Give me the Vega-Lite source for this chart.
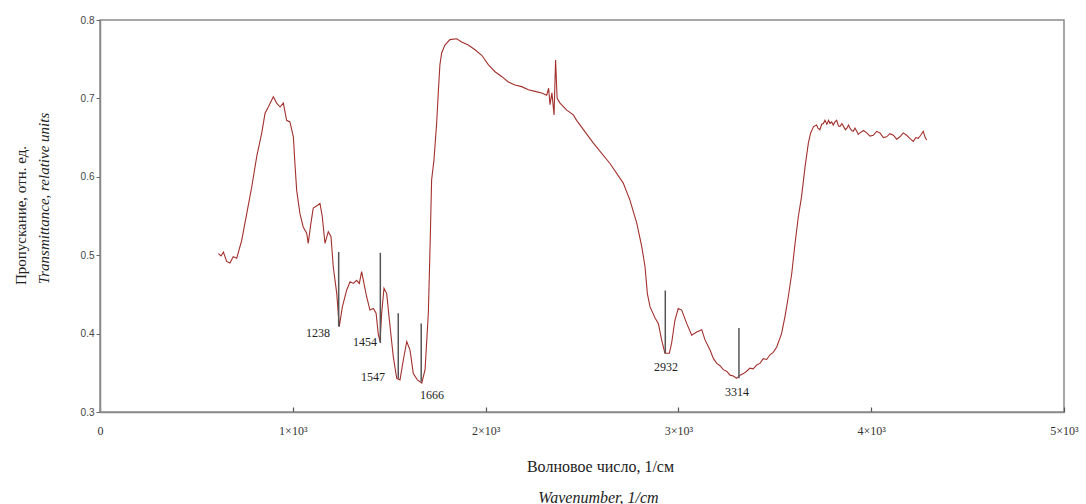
{
  "$schema": "https://vega.github.io/schema/vega-lite/v6.json",
  "width": 964,
  "height": 392,
  "autosize": {"type": "none"},
  "padding": {"left": 100, "top": 20, "right": 22, "bottom": 92},
  "background": "white",
  "config": {
    "view": {"stroke": "#8a8a8a", "strokeWidth": 1.5},
    "axis": {"grid": false}
  },
  "datasets": {
    "spectrum": [
      {"wn": 614, "t": 0.502}, {"wn": 628, "t": 0.499}, {"wn": 640, "t": 0.504}, {"wn": 657, "t": 0.492},
      {"wn": 674, "t": 0.490}, {"wn": 691, "t": 0.498}, {"wn": 709, "t": 0.496}, {"wn": 735, "t": 0.519},
      {"wn": 761, "t": 0.553}, {"wn": 787, "t": 0.587}, {"wn": 813, "t": 0.626}, {"wn": 839, "t": 0.656},
      {"wn": 856, "t": 0.681}, {"wn": 873, "t": 0.689}, {"wn": 899, "t": 0.702}, {"wn": 916, "t": 0.694},
      {"wn": 934, "t": 0.689}, {"wn": 951, "t": 0.694}, {"wn": 968, "t": 0.672}, {"wn": 985, "t": 0.670},
      {"wn": 1003, "t": 0.651}, {"wn": 1011, "t": 0.617}, {"wn": 1020, "t": 0.583}, {"wn": 1037, "t": 0.553},
      {"wn": 1054, "t": 0.536}, {"wn": 1072, "t": 0.528}, {"wn": 1080, "t": 0.515}, {"wn": 1094, "t": 0.541},
      {"wn": 1106, "t": 0.560}, {"wn": 1125, "t": 0.563}, {"wn": 1141, "t": 0.566}, {"wn": 1153, "t": 0.549},
      {"wn": 1167, "t": 0.515}, {"wn": 1184, "t": 0.530}, {"wn": 1198, "t": 0.524}, {"wn": 1210, "t": 0.485},
      {"wn": 1228, "t": 0.451}, {"wn": 1241, "t": 0.409}, {"wn": 1257, "t": 0.434}, {"wn": 1280, "t": 0.456},
      {"wn": 1297, "t": 0.466}, {"wn": 1314, "t": 0.464}, {"wn": 1331, "t": 0.468}, {"wn": 1345, "t": 0.464},
      {"wn": 1357, "t": 0.479}, {"wn": 1366, "t": 0.468}, {"wn": 1383, "t": 0.447}, {"wn": 1400, "t": 0.430},
      {"wn": 1418, "t": 0.432}, {"wn": 1432, "t": 0.426}, {"wn": 1443, "t": 0.400}, {"wn": 1452, "t": 0.390},
      {"wn": 1461, "t": 0.426}, {"wn": 1473, "t": 0.458}, {"wn": 1487, "t": 0.451}, {"wn": 1501, "t": 0.417},
      {"wn": 1521, "t": 0.371}, {"wn": 1539, "t": 0.343}, {"wn": 1556, "t": 0.341}, {"wn": 1573, "t": 0.366},
      {"wn": 1591, "t": 0.390}, {"wn": 1608, "t": 0.379}, {"wn": 1625, "t": 0.349}, {"wn": 1646, "t": 0.341},
      {"wn": 1669, "t": 0.337}, {"wn": 1686, "t": 0.354}, {"wn": 1703, "t": 0.426}, {"wn": 1712, "t": 0.511},
      {"wn": 1720, "t": 0.596}, {"wn": 1732, "t": 0.621}, {"wn": 1746, "t": 0.668}, {"wn": 1755, "t": 0.709},
      {"wn": 1763, "t": 0.743}, {"wn": 1772, "t": 0.758}, {"wn": 1789, "t": 0.768}, {"wn": 1815, "t": 0.775},
      {"wn": 1850, "t": 0.776}, {"wn": 1876, "t": 0.772}, {"wn": 1910, "t": 0.768}, {"wn": 1945, "t": 0.762},
      {"wn": 1980, "t": 0.755}, {"wn": 2014, "t": 0.743}, {"wn": 2049, "t": 0.734}, {"wn": 2083, "t": 0.728},
      {"wn": 2118, "t": 0.721}, {"wn": 2152, "t": 0.717}, {"wn": 2187, "t": 0.715}, {"wn": 2222, "t": 0.711},
      {"wn": 2256, "t": 0.709}, {"wn": 2291, "t": 0.707}, {"wn": 2317, "t": 0.704}, {"wn": 2327, "t": 0.713},
      {"wn": 2334, "t": 0.692}, {"wn": 2344, "t": 0.707}, {"wn": 2355, "t": 0.679}, {"wn": 2363, "t": 0.749},
      {"wn": 2371, "t": 0.700}, {"wn": 2386, "t": 0.694}, {"wn": 2421, "t": 0.685}, {"wn": 2455, "t": 0.679},
      {"wn": 2472, "t": 0.672}, {"wn": 2559, "t": 0.643}, {"wn": 2645, "t": 0.617}, {"wn": 2714, "t": 0.592},
      {"wn": 2749, "t": 0.570}, {"wn": 2784, "t": 0.541}, {"wn": 2810, "t": 0.511}, {"wn": 2827, "t": 0.485},
      {"wn": 2839, "t": 0.451}, {"wn": 2853, "t": 0.434}, {"wn": 2879, "t": 0.420}, {"wn": 2896, "t": 0.413},
      {"wn": 2913, "t": 0.392}, {"wn": 2930, "t": 0.375}, {"wn": 2953, "t": 0.375}, {"wn": 2965, "t": 0.388},
      {"wn": 2982, "t": 0.417}, {"wn": 2999, "t": 0.432}, {"wn": 3017, "t": 0.430}, {"wn": 3043, "t": 0.413},
      {"wn": 3069, "t": 0.398}, {"wn": 3095, "t": 0.402}, {"wn": 3121, "t": 0.405}, {"wn": 3138, "t": 0.392},
      {"wn": 3164, "t": 0.379}, {"wn": 3182, "t": 0.368}, {"wn": 3199, "t": 0.362}, {"wn": 3216, "t": 0.359},
      {"wn": 3233, "t": 0.354}, {"wn": 3250, "t": 0.352}, {"wn": 3268, "t": 0.347}, {"wn": 3285, "t": 0.346},
      {"wn": 3302, "t": 0.343}, {"wn": 3320, "t": 0.347}, {"wn": 3337, "t": 0.349}, {"wn": 3354, "t": 0.352},
      {"wn": 3371, "t": 0.356}, {"wn": 3388, "t": 0.355}, {"wn": 3406, "t": 0.360}, {"wn": 3423, "t": 0.362},
      {"wn": 3440, "t": 0.368}, {"wn": 3458, "t": 0.367}, {"wn": 3475, "t": 0.373}, {"wn": 3492, "t": 0.376},
      {"wn": 3510, "t": 0.383}, {"wn": 3535, "t": 0.400}, {"wn": 3553, "t": 0.422}, {"wn": 3570, "t": 0.447},
      {"wn": 3588, "t": 0.477}, {"wn": 3605, "t": 0.515}, {"wn": 3622, "t": 0.549}, {"wn": 3639, "t": 0.575},
      {"wn": 3657, "t": 0.613}, {"wn": 3674, "t": 0.643}, {"wn": 3686, "t": 0.656}, {"wn": 3701, "t": 0.664},
      {"wn": 3717, "t": 0.666}, {"wn": 3724, "t": 0.662}, {"wn": 3734, "t": 0.660}, {"wn": 3743, "t": 0.667},
      {"wn": 3752, "t": 0.668}, {"wn": 3760, "t": 0.672}, {"wn": 3770, "t": 0.667}, {"wn": 3779, "t": 0.672},
      {"wn": 3786, "t": 0.668}, {"wn": 3795, "t": 0.670}, {"wn": 3803, "t": 0.666}, {"wn": 3812, "t": 0.670},
      {"wn": 3821, "t": 0.672}, {"wn": 3830, "t": 0.665}, {"wn": 3838, "t": 0.664}, {"wn": 3848, "t": 0.668},
      {"wn": 3857, "t": 0.664}, {"wn": 3866, "t": 0.660}, {"wn": 3874, "t": 0.662}, {"wn": 3882, "t": 0.666},
      {"wn": 3890, "t": 0.662}, {"wn": 3899, "t": 0.659}, {"wn": 3907, "t": 0.658}, {"wn": 3916, "t": 0.662},
      {"wn": 3925, "t": 0.658}, {"wn": 3933, "t": 0.654}, {"wn": 3942, "t": 0.656}, {"wn": 3960, "t": 0.659},
      {"wn": 3977, "t": 0.656}, {"wn": 3994, "t": 0.652}, {"wn": 4011, "t": 0.653}, {"wn": 4028, "t": 0.658},
      {"wn": 4046, "t": 0.656}, {"wn": 4063, "t": 0.650}, {"wn": 4080, "t": 0.651}, {"wn": 4097, "t": 0.655},
      {"wn": 4115, "t": 0.653}, {"wn": 4132, "t": 0.648}, {"wn": 4149, "t": 0.651}, {"wn": 4166, "t": 0.656},
      {"wn": 4184, "t": 0.653}, {"wn": 4200, "t": 0.649}, {"wn": 4218, "t": 0.645}, {"wn": 4231, "t": 0.650},
      {"wn": 4244, "t": 0.649}, {"wn": 4257, "t": 0.653}, {"wn": 4270, "t": 0.658}, {"wn": 4280, "t": 0.650},
      {"wn": 4288, "t": 0.647}
    ],
    "peaks": [
      {"peak": 1238, "lo": 0.409, "hi": 0.504, "lx": 1131, "ly": 0.401, "label": "1238"},
      {"peak": 1454, "lo": 0.388, "hi": 0.503, "lx": 1374, "ly": 0.389, "label": "1454"},
      {"peak": 1547, "lo": 0.343, "hi": 0.426, "lx": 1416, "ly": 0.345, "label": "1547"},
      {"peak": 1666, "lo": 0.339, "hi": 0.413, "lx": 1722, "ly": 0.322, "label": "1666"},
      {"peak": 2932, "lo": 0.375, "hi": 0.455, "lx": 2936, "ly": 0.357, "label": "2932"},
      {"peak": 3314, "lo": 0.343, "hi": 0.407, "lx": 3304, "ly": 0.326, "label": "3314"}
    ]
  },
  "layer": [
    {
      "data": {"name": "spectrum"},
      "mark": {"type": "line", "color": "#a3302c", "strokeWidth": 1.1, "clip": true},
      "encoding": {
        "x": {
          "field": "wn", "type": "quantitative",
          "scale": {"domain": [0, 5000], "nice": false, "zero": false},
          "axis": {
            "values": [0, 1000, 2000, 3000, 4000, 5000],
            "labelExpr": "datum.value == 0 ? '0' : (datum.value / 1000) + '×10³'",
            "labelFont": "Liberation Serif", "labelFontSize": 12, "labelColor": "#333",
            "labelPadding": 18, "labelFlush": false,
            "tickSize": -5, "tickColor": "#555", "tickWidth": 1.2,
            "domainColor": "#8a8a8a", "domainWidth": 1.5,
            "title": "Волновое число, 1/см",
            "titleFont": "Liberation Serif", "titleFontSize": 16, "titleFontWeight": "normal",
            "titleColor": "#222", "titlePadding": 22, "titleX": 500
          }
        },
        "y": {
          "field": "t", "type": "quantitative",
          "scale": {"domain": [0.3, 0.8], "nice": false, "zero": false},
          "axis": {
            "values": [0.3, 0.4, 0.5, 0.6, 0.7, 0.8],
            "format": ".1f",
            "labelFont": "Liberation Sans", "labelFontSize": 10, "labelColor": "#444",
            "labelPadding": 2,
            "tickSize": 4, "tickColor": "#666",
            "domainColor": "#8a8a8a", "domainWidth": 1.5,
            "title": "Transmittance, relative units",
            "titleFont": "Liberation Serif", "titleFontSize": 15, "titleFontStyle": "italic",
            "titleFontWeight": "normal", "titleColor": "#222", "titlePadding": 29, "titleY": 178
          }
        }
      }
    },
    {
      "data": {"name": "spectrum"},
      "mark": {"type": "point", "opacity": 0, "size": 1},
      "encoding": {
        "x": {
          "field": "wn", "type": "quantitative",
          "axis": {
            "orient": "bottom", "labels": false, "ticks": false, "domain": false,
            "title": "Wavenumber, 1/cm",
            "titleFont": "Liberation Serif", "titleFontSize": 16, "titleFontStyle": "italic",
            "titleFontWeight": "normal", "titleColor": "#222", "titlePadding": 77, "titleX": 498
          }
        },
        "y": {
          "field": "t", "type": "quantitative",
          "axis": {
            "orient": "left", "labels": false, "ticks": false, "domain": false,
            "title": "Пропускание, отн. ед.",
            "titleFont": "Liberation Serif", "titleFontSize": 15,
            "titleFontWeight": "normal", "titleColor": "#222", "titlePadding": 72, "titleY": 195
          }
        }
      }
    },
    {
      "data": {"name": "peaks"},
      "mark": {"type": "rule", "color": "#555", "strokeWidth": 1.5},
      "encoding": {
        "x": {"field": "peak", "type": "quantitative", "axis": null},
        "y": {"field": "lo", "type": "quantitative", "axis": null},
        "y2": {"field": "hi"}
      }
    },
    {
      "data": {"name": "peaks"},
      "mark": {"type": "text", "font": "Liberation Serif", "fontSize": 12, "color": "#222", "align": "center", "baseline": "middle"},
      "encoding": {
        "x": {"field": "lx", "type": "quantitative", "axis": null},
        "y": {"field": "ly", "type": "quantitative", "axis": null},
        "text": {"field": "label"}
      }
    }
  ],
  "resolve": {"axis": {"x": "independent", "y": "independent"}}
}
